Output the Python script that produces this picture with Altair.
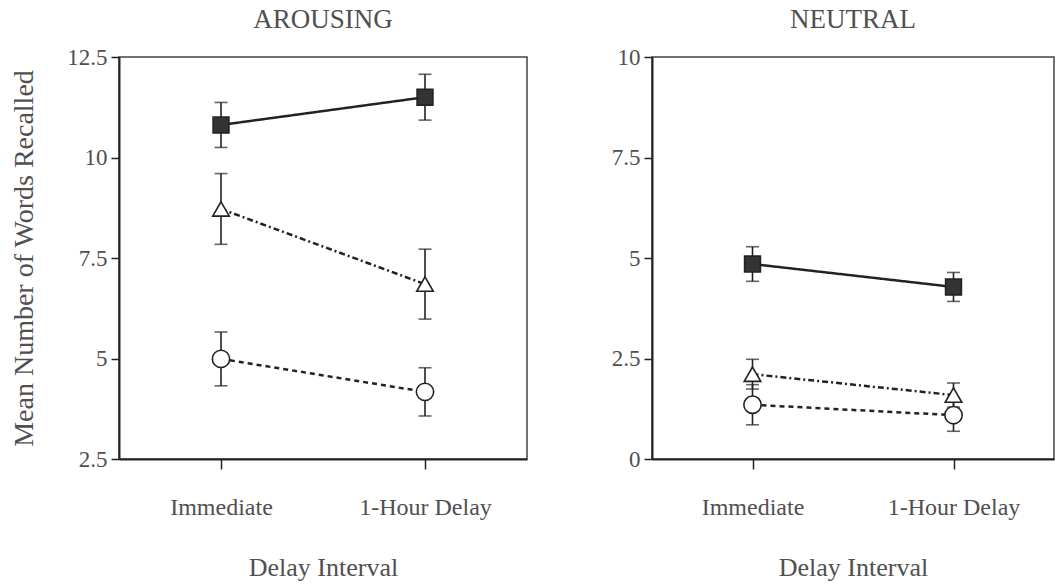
import altair as alt
import pandas as pd

SERIF = "Liberation Serif"
INK = "#222222"
TEXT = "#505050"

delay_levels = ["Immediate", "1-Hour Delay"]
series_names = ["square", "triangle", "circle"]

# Arousing words: means and error-bar half widths per delay interval
arousing_square = [10.81, 11.50]
arousing_square_err = [0.56, 0.57]
arousing_triangle = [8.72, 6.85]
arousing_triangle_err = [0.88, 0.87]
arousing_circle = [4.99, 4.17]
arousing_circle_err = [0.67, 0.60]

# Neutral words
neutral_square = [4.85, 4.28]
neutral_square_err = [0.43, 0.36]
neutral_triangle = [2.11, 1.59]
neutral_triangle_err = [0.37, 0.30]
neutral_circle = [1.35, 1.09]
neutral_circle_err = [0.50, 0.40]

arousing_ticks = [2.5, 5, 7.5, 10, 12.5]
neutral_ticks = [0, 2.5, 5, 7.5, 10]


def build_frame(means, errors):
    rows = []
    for name in series_names:
        for i, delay in enumerate(delay_levels):
            m = means[name][i]
            e = errors[name][i]
            rows.append({"series": name, "delay": delay, "mean": m,
                         "lo": m - e, "hi": m + e})
    return pd.DataFrame(rows)


arousing_df = build_frame(
    {"square": arousing_square, "triangle": arousing_triangle, "circle": arousing_circle},
    {"square": arousing_square_err, "triangle": arousing_triangle_err, "circle": arousing_circle_err},
)
neutral_df = build_frame(
    {"square": neutral_square, "triangle": neutral_triangle, "circle": neutral_circle},
    {"square": neutral_square_err, "triangle": neutral_triangle_err, "circle": neutral_circle_err},
)


def panel(df, title, y_domain, y_ticks, y_title, width):
    x = alt.X(
        "delay:N",
        sort=delay_levels,
        scale=alt.Scale(type="point", padding=0.5),
        axis=alt.Axis(title="Delay Interval", labelAngle=0, tickSize=10,
                      labelPadding=26, titlePadding=35, labelFontSize=24,
                      titleFontSize=26),
    )
    y_scale = alt.Scale(domain=y_domain, nice=False, zero=False)
    y_axis = alt.Axis(values=y_ticks, labelExpr="'' + datum.value",
                      title=y_title, tickSize=8, labelPadding=4,
                      titlePadding=28, labelFontSize=23, titleFontSize=28)

    base = alt.Chart(df)
    bars = base.mark_rule(color=INK, strokeWidth=1.6).encode(
        x=x, y=alt.Y("lo:Q", scale=y_scale, axis=y_axis), y2="hi:Q"
    )
    cap_lo = base.mark_tick(color=INK, size=13, thickness=1.6).encode(
        x=x, y=alt.Y("lo:Q", scale=y_scale, axis=y_axis)
    )
    cap_hi = base.mark_tick(color=INK, size=13, thickness=1.6).encode(
        x=x, y=alt.Y("hi:Q", scale=y_scale, axis=y_axis)
    )
    lines = base.mark_line(color=INK, strokeWidth=2.5).encode(
        x=x,
        y=alt.Y("mean:Q", scale=y_scale, axis=y_axis),
        detail="series:N",
        strokeDash=alt.StrokeDash(
            "series:N",
            scale=alt.Scale(domain=series_names,
                            range=[[1, 0], [6, 3, 2, 3], [5, 4]]),
            legend=None,
        ),
    )
    points = base.mark_point(filled=True, stroke=INK, strokeWidth=1.6,
                             opacity=1).encode(
        x=x,
        y=alt.Y("mean:Q", scale=y_scale, axis=y_axis),
        shape=alt.Shape("series:N",
                        scale=alt.Scale(domain=series_names,
                                        range=["square", "triangle-up", "circle"]),
                        legend=None),
        fill=alt.Fill("series:N",
                      scale=alt.Scale(domain=series_names,
                                      range=["#333333", "white", "white"]),
                      legend=None),
        size=alt.Size("series:N",
                      scale=alt.Scale(domain=series_names, range=[250, 300, 260]),
                      legend=None),
    )
    return alt.layer(bars, cap_lo, cap_hi, lines, points).properties(
        width=width,
        height=402,
        title=alt.TitleParams(text=title, fontSize=27, font=SERIF,
                              fontWeight="normal", color=TEXT, anchor="middle",
                              offset=12),
    )


left = panel(arousing_df, "AROUSING", [2.5, 12.5], arousing_ticks,
             "Mean Number of Words Recalled", 408)
right = panel(neutral_df, "NEUTRAL", [0, 10], neutral_ticks, None, 402)

chart = (
    alt.hconcat(left, right, spacing=82)
    .resolve_scale(y="independent")
    .properties(padding={"left": 10, "top": 5, "right": 0, "bottom": 0},
                background="white")
    .configure_view(stroke="#444444", strokeWidth=1.5)
    .configure_axis(
        grid=False,
        domainColor=INK,
        domainWidth=2,
        tickColor=INK,
        tickWidth=1.5,
        labelFont=SERIF,
        titleFont=SERIF,
        labelColor=TEXT,
        titleColor=TEXT,
        titleFontWeight="normal",
    )
)

chart.save("out.html", embed_options={"renderer": "svg", "actions": False})
